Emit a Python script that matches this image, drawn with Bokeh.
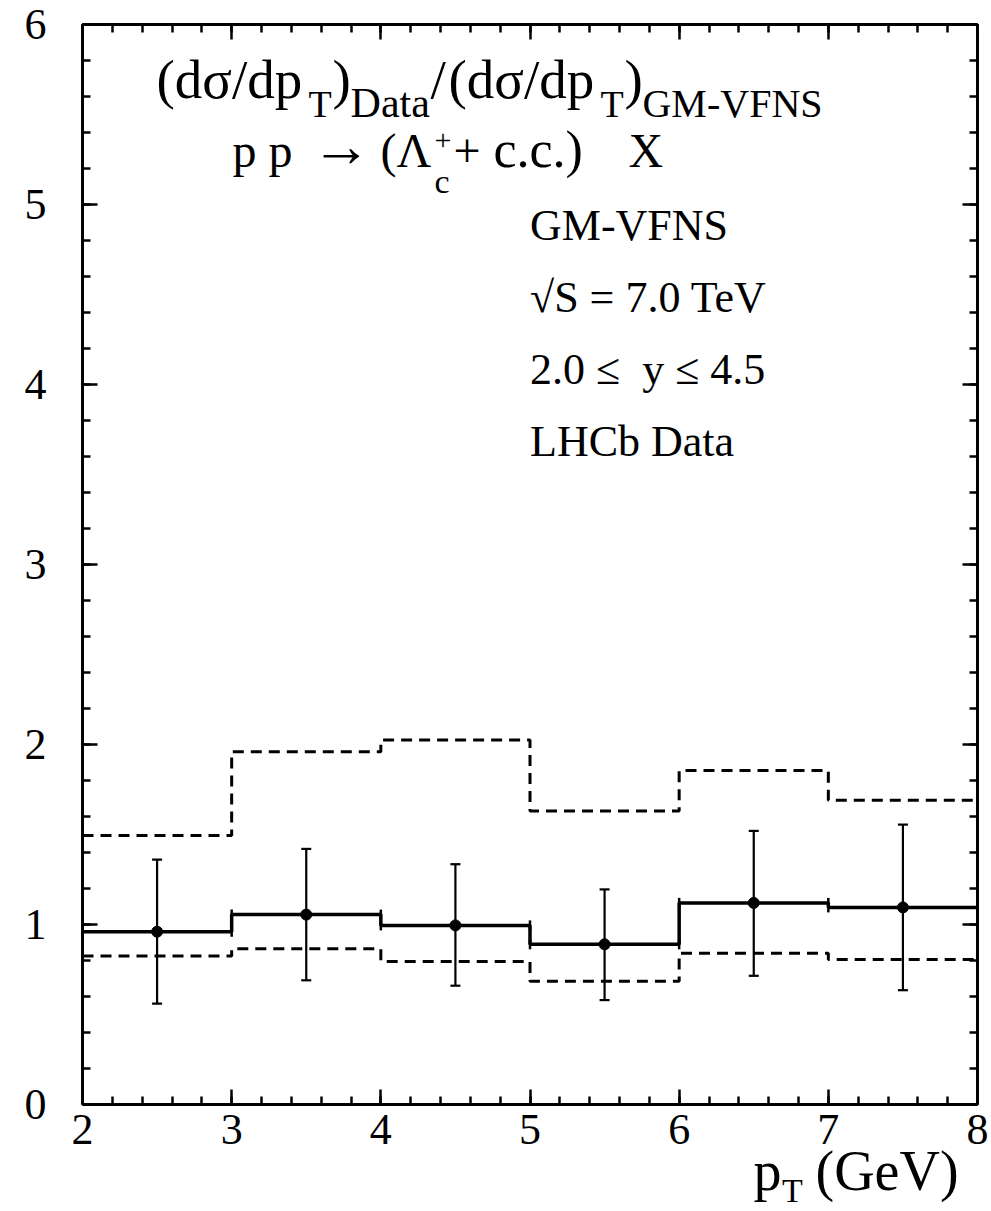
from bokeh.plotting import figure
from bokeh.models import (Range1d, LinearAxis, SingleIntervalTicker, FixedTicker,
                          Label)
from bokeh.embed import file_html
from bokeh.resources import INLINE
import math

# ---------------- data ----------------
bin_edges = [2, 3, 4, 5, 6, 7, 8]
pt_centers = [2.5, 3.5, 4.5, 5.5, 6.5, 7.5]
ratio_data = [0.96, 1.055, 0.995, 0.89, 1.12, 1.095]
err_high = [1.36, 1.42, 1.335, 1.195, 1.52, 1.555]
err_low = [0.56, 0.69, 0.66, 0.58, 0.715, 0.635]
band_upper = [1.495, 1.96, 2.025, 1.63, 1.855, 1.69]
band_lower = [0.825, 0.865, 0.795, 0.685, 0.84, 0.805]
x_major_ticks = [2, 3, 4, 5, 6, 7, 8]
y_major_ticks = [0, 1, 2, 3, 4, 5, 6]

FONT = "Liberation Serif"

X_MIN, X_MAX = 2, 8
Y_MIN, Y_MAX = 0, 6
# pixel geometry of the plotting box inside the 991 x 1211 canvas
PX_PER_X = 895 / 6
PX_PER_Y = 1080 / 6
# the frame covers the whole canvas so that nothing (tick labels, axis title) is clipped
x_lo = X_MIN - 82 / PX_PER_X
x_hi = X_MAX + 14 / PX_PER_X
y_lo = Y_MIN - 107 / PX_PER_Y
y_hi = Y_MAX + 24 / PX_PER_Y

p = figure(width=991, height=1211, output_backend="svg", toolbar_location=None,
           x_range=Range1d(x_lo, x_hi), y_range=Range1d(y_lo, y_hi),
           x_axis_location=None, y_axis_location=None,
           min_border_left=0, min_border_right=0, min_border_top=0,
           min_border_bottom=0)
p.grid.visible = False
p.outline_line_color = None
p.background_fill_color = "white"
p.border_fill_color = "white"


def style_axis(ax, major_in=15, minor_in=8):
    ax.axis_line_width = 3
    ax.axis_line_color = "black"
    ax.major_tick_line_width = 2.5
    ax.minor_tick_line_width = 2.5
    ax.major_tick_in = major_in
    ax.major_tick_out = 0
    ax.minor_tick_in = minor_in
    ax.minor_tick_out = 0
    ax.major_label_text_font = FONT
    ax.major_label_text_color = "black"
    ax.major_label_text_font_size = "44px"
    return ax


minor_x = [X_MIN + 0.2 * i for i in range(31)]
minor_y = [Y_MIN + 0.2 * i for i in range(31)]

# bottom axis, drawn at y = 0
xb = style_axis(LinearAxis(ticker=SingleIntervalTicker(interval=1, num_minor_ticks=5),
                           fixed_location=Y_MIN, bounds=(X_MIN, X_MAX)))
xb.major_label_standoff = 10
p.add_layout(xb, "below")

# left axis, drawn at x = 2
yl = style_axis(LinearAxis(ticker=SingleIntervalTicker(interval=1, num_minor_ticks=5),
                           fixed_location=X_MIN, bounds=(Y_MIN, Y_MAX)))
yl.major_label_standoff = 36
p.add_layout(yl, "left")

# top and right tick rows (no labels): one axis for minor ticks, one for the long ones
for loc, minors, majors, fixed, bnds in [
    ("above", minor_x, x_major_ticks, Y_MAX, (X_MIN, X_MAX)),
    ("right", minor_y, y_major_ticks, X_MAX, (Y_MIN, Y_MAX)),
]:
    a1 = style_axis(LinearAxis(ticker=FixedTicker(ticks=[], minor_ticks=minors),
                               fixed_location=fixed, bounds=bnds), minor_in=8)
    a2 = style_axis(LinearAxis(ticker=FixedTicker(ticks=[], minor_ticks=majors),
                               fixed_location=fixed, bounds=bnds), minor_in=15)
    p.add_layout(a1, loc)
    p.add_layout(a2, loc)


# ---------------- histograms ----------------
def step_y(vals):
    return list(vals) + [vals[-1]]

p.step(x=bin_edges, y=step_y(band_upper), mode="after", line_color="black",
       line_width=3, line_dash="11 7")
p.step(x=bin_edges, y=step_y(band_lower), mode="after", line_color="black",
       line_width=3, line_dash="11 7")
p.step(x=bin_edges, y=step_y(ratio_data), mode="after", line_color="black",
       line_width=3.5)

# small end caps on the central histogram at bin edges
cap_x = list(bin_edges[:-1]) + list(bin_edges[1:])
cap_y = list(ratio_data) + list(ratio_data)
p.scatter(cap_x, cap_y, marker="dash", angle=math.pi / 2, size=10,
          line_color="black", line_width=2.5)

# error bars
p.segment(x0=pt_centers, y0=err_low, x1=pt_centers, y1=err_high,
          line_color="black", line_width=2.2)
p.scatter(pt_centers, err_high, marker="dash", size=10, line_color="black", line_width=2.2)
p.scatter(pt_centers, err_low, marker="dash", size=10, line_color="black", line_width=2.2)
p.scatter(pt_centers, ratio_data, marker="circle", size=11, color="black")


# ---------------- text ----------------
def lab(x, y, text, size, font=FONT):
    # small upward correction so that the glyph baseline lands on y
    y_corr = y + 0.35 * size / PX_PER_Y
    p.add_layout(Label(x=x, y=y_corr, text=text, text_font=font,
                       text_font_size=f"{size}px", text_color="black",
                       text_align="left", text_baseline="alphabetic"))

# title line 1
lab(2.496, 5.589, "(dσ/dp", 55)
lab(3.515, 5.483, "T", 38)
lab(3.676, 5.589, ")", 55)
lab(3.797, 5.483, "Data", 42)
lab(4.333, 5.589, "/", 55)
lab(4.454, 5.589, "(dσ/dp", 55)
lab(5.473, 5.483, "T", 38)
lab(5.634, 5.589, ")", 55)
lab(5.754, 5.483, "GM-VFNS", 40)

# title line 2
lab(3.006, 5.206, "p p", 48)
lab(3.535, 5.206, "→", 60)
lab(3.998, 5.206, "(Λ", 48)
lab(4.360, 5.061, "c", 34)
lab(4.360, 5.300, "+", 30)
lab(4.487, 5.206, "+", 48)
lab(4.755, 5.206, "c.c.)", 52)
lab(5.660, 5.206, "X", 48)

# info block
lab(5.0, 4.8, "GM-VFNS", 44)
lab(5.0, 4.4, "√S = 7.0 TeV", 44)
lab(5.0, 4.0, "2.0 ≤\u00a0\u00a0y ≤ 4.5", 44)
lab(5.0, 3.6, "LHCb Data", 44)

# x-axis title
lab(6.498, -0.480, "p", 56)
lab(6.690, -0.545, "T", 34)
lab(6.914, -0.480, "(GeV)", 56)

open("out.html", "w").write(file_html(p, INLINE))
